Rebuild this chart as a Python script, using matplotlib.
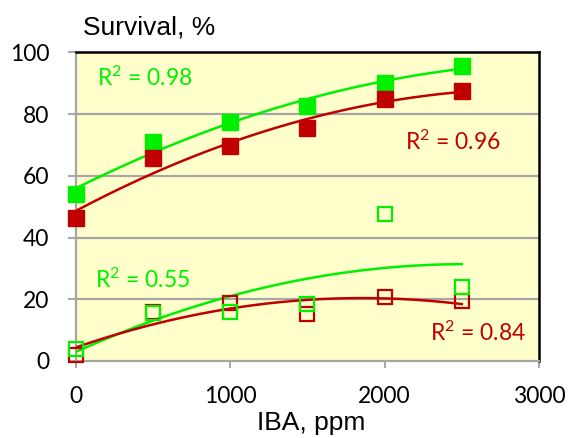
import numpy as np
import matplotlib
matplotlib.use("Agg")
import matplotlib.pyplot as plt

plt.rcParams["mathtext.fontset"] = "custom"
plt.rcParams["mathtext.rm"] = "Lato"
plt.rcParams["mathtext.it"] = "Lato:italic"
plt.rcParams["mathtext.bf"] = "Lato:bold"

# IBA concentration (ppm)
iba = [0, 500, 1000, 1500, 2000, 2500]

# Survival (%) for the four treatment series
green_filled = [54.0, 71.0, 77.3, 82.7, 90.2, 95.6]
red_filled = [46.2, 65.9, 69.7, 75.4, 84.9, 87.6]
green_open = [3.9, 15.4, 16.0, 18.6, 47.5, 23.9]
red_open = [2.0, 15.8, 18.7, 15.2, 20.7, 19.4]

r2_values = ["0.98", "0.96", "0.55", "0.84"]

x_ticks = [0, 1000, 2000, 3000]
y_ticks = [0, 20, 40, 60, 80, 100]

GREEN = "#00F000"
RED = "#C00000"
BG = "#FFFFCC"
GRID = "#A6A6A6"

fig = plt.figure(figsize=(5.7, 4.38), dpi=100)
ax = fig.add_axes([0.1333, 0.1758, 0.9456 - 0.1333, 0.8806 - 0.1758])
ax.set_facecolor(BG)

ax.set_xlim(0, 3000)
ax.set_ylim(0, 100)

# horizontal gridlines
for y in y_ticks[1:-1]:
    ax.axhline(y, color=GRID, lw=1.6, zorder=1)

# quadratic trendlines over the data range
xs = np.linspace(min(iba), max(iba), 200)
for ys, col in [(green_filled, GREEN), (red_filled, RED),
                (green_open, GREEN), (red_open, RED)]:
    coef = np.polyfit(iba, ys, 2)
    ax.plot(xs, np.polyval(coef, xs), color=col, lw=1.8, zorder=3)

ms = 11
ax.plot(iba, green_filled, ls="none", marker="s", ms=ms, mfc=GREEN, mec=GREEN,
        zorder=4, clip_on=False)
ax.plot(iba, red_filled, ls="none", marker="s", ms=ms, mfc=RED, mec=RED,
        zorder=4, clip_on=False)
ax.plot(iba, red_open, ls="none", marker="s", ms=9.5, mfc="none", mec=RED,
        mew=1.6, zorder=4, clip_on=False)
ax.plot(iba, green_open, ls="none", marker="s", ms=9.5, mfc="none", mec=GREEN,
        mew=1.6, zorder=4, clip_on=False)

# R² annotations
def r2(v):
    return r"R$^{\mathrm{2}}$ = " + v

lab_font = dict(family=["Lato", "DejaVu Sans"], fontsize=16.5)
ax.text(136, 91.7, r2(r2_values[0]), color=GREEN, va="center", ha="left", **lab_font)
ax.text(2132, 70.9, r2(r2_values[1]), color=RED, va="center", ha="left", **lab_font)
ax.text(123, 26.2, r2(r2_values[2]), color=GREEN, va="center", ha="left", **lab_font)
ax.text(2294, 9.1, r2(r2_values[3]), color=RED, va="center", ha="left", **lab_font)

# axes frame
for side in ("top", "right"):
    ax.spines[side].set_color("black")
    ax.spines[side].set_linewidth(1.8)
for side in ("left", "bottom"):
    ax.spines[side].set_color(GRID)
    ax.spines[side].set_linewidth(1.6)
ax.spines["left"].set_zorder(2)

ax.set_xticks(x_ticks)
ax.set_yticks(y_ticks)
ax.set_xticklabels([str(v) for v in x_ticks])
ax.set_yticklabels([str(v) for v in y_ticks])
ax.tick_params(axis="both", direction="out", color=GRID, width=1.4,
               labelsize=16.5, labelcolor="black")
ax.tick_params(axis="y", length=6, pad=13)
ax.tick_params(axis="x", length=5, pad=13)
for lab in ax.get_xticklabels() + ax.get_yticklabels():
    lab.set_family(["Lato", "DejaVu Sans"])

fig.text(83 / 570, 1 - 28 / 438, "Survival, %", family="Liberation Sans",
         fontsize=19, ha="left", va="center")
fig.text(311 / 570, 1 - 423 / 438, "IBA, ppm", family="Liberation Sans",
         fontsize=19, ha="center", va="center")

fig.savefig("out.png", dpi=100)
